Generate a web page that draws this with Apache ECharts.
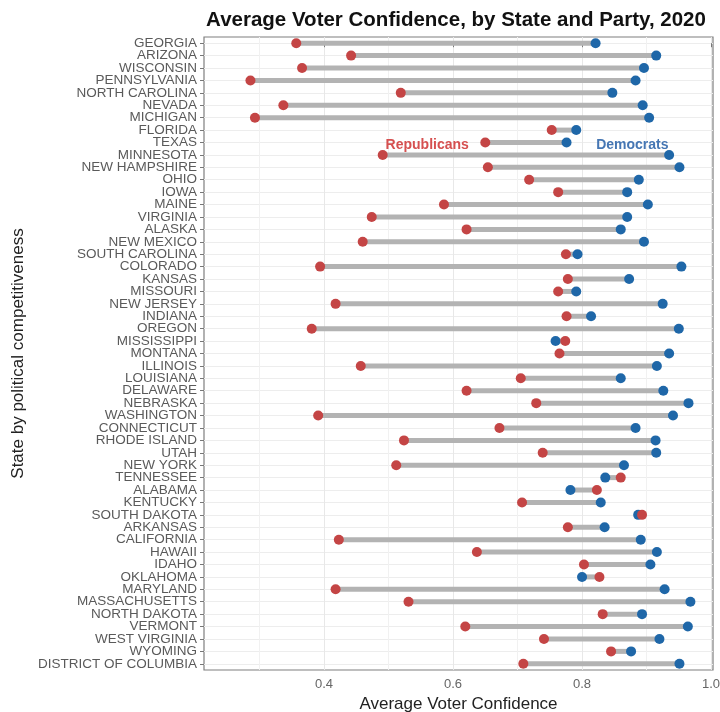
<!DOCTYPE html>
<html><head><meta charset="utf-8">
<script src="https://cdn.jsdelivr.net/npm/echarts@6/dist/echarts.min.js"></script>
<style>html,body{margin:0;padding:0;background:#fff}#c{width:720px;height:712px}</style>
</head><body><div id="c"></div>
<script>
// ---- data (top to bottom) ----
const states = ['GEORGIA','ARIZONA','WISCONSIN','PENNSYLVANIA','NORTH CAROLINA','NEVADA','MICHIGAN','FLORIDA','TEXAS','MINNESOTA','NEW HAMPSHIRE','OHIO','IOWA','MAINE','VIRGINIA','ALASKA','NEW MEXICO','SOUTH CAROLINA','COLORADO','KANSAS','MISSOURI','NEW JERSEY','INDIANA','OREGON','MISSISSIPPI','MONTANA','ILLINOIS','LOUISIANA','DELAWARE','NEBRASKA','WASHINGTON','CONNECTICUT','RHODE ISLAND','UTAH','NEW YORK','TENNESSEE','ALABAMA','KENTUCKY','SOUTH DAKOTA','ARKANSAS','CALIFORNIA','HAWAII','IDAHO','OKLAHOMA','MARYLAND','MASSACHUSETTS','NORTH DAKOTA','VERMONT','WEST VIRGINIA','WYOMING','DISTRICT OF COLUMBIA'];
const repValues = [0.357,0.442,0.366,0.286,0.519,0.337,0.293,0.753,0.650,0.491,0.654,0.718,0.763,0.586,0.474,0.621,0.460,0.775,0.394,0.778,0.763,0.418,0.776,0.381,0.774,0.765,0.457,0.705,0.621,0.729,0.391,0.672,0.524,0.739,0.512,0.860,0.823,0.707,0.893,0.778,0.423,0.637,0.803,0.827,0.418,0.531,0.832,0.619,0.741,0.845,0.709];
const demValues = [0.821,0.915,0.896,0.883,0.847,0.894,0.904,0.791,0.776,0.935,0.951,0.888,0.870,0.902,0.870,0.860,0.896,0.793,0.954,0.873,0.791,0.925,0.814,0.950,0.759,0.935,0.916,0.860,0.926,0.965,0.941,0.883,0.914,0.915,0.865,0.836,0.782,0.829,0.887,0.835,0.891,0.916,0.906,0.800,0.928,0.968,0.893,0.964,0.920,0.876,0.951];
const xMajorTicks = [0.4,0.6,0.8,1.0];
const xMinorTicks = [0.3,0.5,0.7,0.9];
const annotLabels = ['Republicans','Democrats'];
const annotX = [0.56,0.878];
const annotState = 'TEXAS';

const rowIdx = states.map((s,i)=>i);
const FONT = '"Liberation Sans", Arial, sans-serif';
const annotRow = states.indexOf(annotState) + 0.2;

const chart = echarts.init(document.getElementById('c'), null, {renderer:'canvas'});
chart.setOption({
  animation:false,
  backgroundColor:'#ffffff',
  title:{
    text:'Average Voter Confidence, by State and Party, 2020',
    left:451, top:5, textAlign:'center',
    textStyle:{fontFamily:FONT, fontSize:20.5, fontWeight:'bold', color:'#111'}
  },
  grid:{left:204, right:7, top:37, bottom:42, show:true, borderColor:'#7f7f7f', borderWidth:1.2,
    backgroundColor:'transparent', outerBoundsMode:'none', containLabel:false},
  xAxis:[{
    type:'value', min:0.214, max:1.003,
    name:'Average Voter Confidence', nameLocation:'middle', nameGap:23,
    nameTextStyle:{fontFamily:FONT, fontSize:17, color:'#222'},
    axisLine:{show:false},
    axisTick:{show:true, customValues:xMajorTicks, length:4, lineStyle:{color:'#777'}},
    axisLabel:{customValues:xMajorTicks, fontFamily:FONT, fontSize:13, color:'#666', margin:8,
      showMinLabel:true, showMaxLabel:true, hideOverlap:false,
      formatter:v=>v.toFixed(1)},
    splitLine:{show:true, lineStyle:{color:'#e8e8e8', width:1}}
  },{
    type:'value', min:0.214, max:1.003, position:'bottom',
    axisLine:{show:false}, axisLabel:{show:false},
    axisTick:{show:false, customValues:xMinorTicks},
    splitLine:{show:true, lineStyle:{color:'#f1f1f1', width:1}}
  }],
  yAxis:[{
    type:'category', inverse:true, data:states, boundaryGap:true,
    name:'State by political competitiveness', nameLocation:'middle', nameGap:173, nameRotate:90,
    nameTextStyle:{fontFamily:FONT, fontSize:17, color:'#222'},
    axisLine:{show:false},
    axisTick:{show:true, alignWithLabel:true, length:4, lineStyle:{color:'#777'}},
    axisLabel:{interval:0, fontFamily:FONT, fontSize:13.5, color:'#5a5a5a', margin:7, hideOverlap:false},
    splitLine:{show:false}
  },{
    type:'value', inverse:true, min:-0.5, max:states.length-0.5, position:'left',
    axisLine:{show:false}, axisLabel:{show:false},
    axisTick:{show:false, customValues:rowIdx},
    splitLine:{show:true, lineStyle:{color:'#ededed', width:1}}
  }],
  series:[
    {
      type:'custom', xAxisIndex:0, yAxisIndex:0, silent:true,
      data: states.map((s,i)=>[repValues[i], demValues[i], i]),
      encode:{x:[0,1], y:2},
      renderItem:function(params, api){
        const p1 = api.coord([api.value(0), api.value(2)]);
        const p2 = api.coord([api.value(1), api.value(2)]);
        return {type:'line', shape:{x1:p1[0],y1:p1[1],x2:p2[0],y2:p2[1]},
          style:{stroke:'#b3b3b3', lineWidth:5}};
      },
      z:2
    },
    {
      type:'scatter', name:'Democrats', xAxisIndex:0, yAxisIndex:0, silent:true,
      data: states.map((s,i)=>[demValues[i], i]),
      symbolSize:10, itemStyle:{color:'#1f67a8', opacity:1}, z:3
    },
    {
      type:'scatter', name:'Republicans', xAxisIndex:0, yAxisIndex:0, silent:true,
      data: states.map((s,i)=>[repValues[i], i]),
      symbolSize:10, itemStyle:{color:'#c44545', opacity:1}, z:4
    },
    {
      type:'custom', xAxisIndex:0, yAxisIndex:1, silent:true,
      data: annotLabels.map((t,i)=>[annotX[i], annotRow]),
      encode:{x:0, y:1},
      renderItem:function(params, api){
        const p = api.coord([api.value(0), api.value(1)]);
        const txt = annotLabels[params.dataIndex];
        return {type:'text', x:p[0], y:p[1],
          style:{text:txt, align:'center', verticalAlign:'middle',
            fill: params.dataIndex===0 ? '#d65050' : '#4576b3',
            fontFamily:FONT, fontSize:14, fontWeight:'bold'}};
      },
      z:5
    }
  ]
});
</script>
</body></html>
